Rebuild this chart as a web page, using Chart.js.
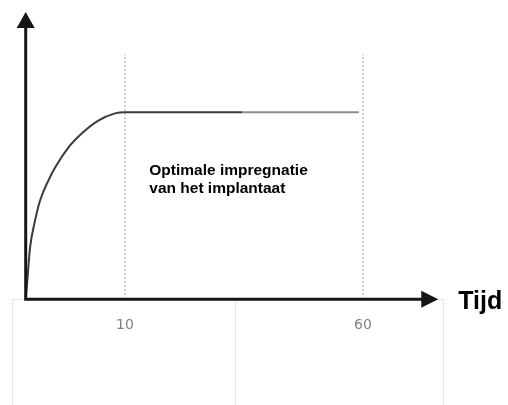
<!DOCTYPE html>
<html>
<head>
<meta charset="utf-8">
<script src="https://cdn.jsdelivr.net/npm/chart.js@4"></script>
<style>
  html, body { margin: 0; padding: 0; background: #fff; }
  #wrap { width: 508px; height: 405px; }
</style>
</head>
<body>
<div id="wrap"><canvas id="impregnationChart"></canvas></div>
<script>
// time axis (plot units) and level values of the impregnation curve
const curveTime = [-10.86, -10.53, -9.96, -8.91, -7.86, -6.11, -4.71, -1.91, 0.9, 4.39, 7.9, 10, 34.6, 59.1];
const curveLevel = [0, 6.3, 17.8, 27.3, 34.3, 41.3, 45.8, 52.8, 57.7, 62.2, 64.7, 65.1, 65.1, 65.1];

// vertical markers at t = 10 and t = 60
const markerTimes = [10, 60];
const markerTop = 85.3;

// bottom axis: cell borders and labelled ticks
const xMin = -13.74;
const xMax = 76.8;
const cellBorders = [xMin, 33.3, xMax];
const tickLabels = ["10", "60"];

const originTime = -10.86;
const axisTipTime = 75.8;

const noteLines = ["Optimale impregnatie", "van het implantaat"];
const notePos = { t: 15.1, level: 43.4 };

const curvePoints = curveTime.map((t, i) => ({ x: t, y: curveLevel[i] }));

const markerSets = markerTimes.map((t) => ({
  data: [{ x: t, y: 0 }, { x: t, y: markerTop }],
  borderColor: "#9a9a9a",
  borderWidth: 1,
  borderDash: [2, 2],
  pointRadius: 0,
}));

// black arrow axes, the "Tijd" label and the note in the plot
const arrowAxes = {
  id: "arrowAxes",
  afterDatasetsDraw(chart) {
    const { ctx, scales } = chart;
    const x0 = scales.x.getPixelForValue(originTime);
    const y0 = scales.y.getPixelForValue(0);
    const xTip = scales.x.getPixelForValue(axisTipTime);
    const yTip = scales.y.getPixelForValue(scales.y.max);

    ctx.save();
    ctx.strokeStyle = "#151515";
    ctx.fillStyle = "#151515";
    ctx.lineWidth = 3;
    ctx.lineCap = "square";

    ctx.beginPath();
    ctx.moveTo(x0, y0);
    ctx.lineTo(x0, yTip + 15);
    ctx.moveTo(x0, y0);
    ctx.lineTo(xTip - 16, y0);
    ctx.stroke();

    ctx.beginPath();
    ctx.moveTo(x0, yTip);
    ctx.lineTo(x0 - 9, yTip + 16);
    ctx.lineTo(x0 + 9, yTip + 16);
    ctx.closePath();
    ctx.fill();

    ctx.beginPath();
    ctx.moveTo(xTip, y0);
    ctx.lineTo(xTip - 17, y0 - 8.5);
    ctx.lineTo(xTip - 17, y0 + 8.5);
    ctx.closePath();
    ctx.fill();

    ctx.font = "bold 25px 'Liberation Sans', Arial, sans-serif";
    ctx.textBaseline = "alphabetic";
    ctx.fillStyle = "#000";
    ctx.fillText("Tijd", xTip + 20, y0 + 10);

    ctx.font = "bold 15.5px 'Liberation Sans', Arial, sans-serif";
    const nx = scales.x.getPixelForValue(notePos.t);
    const ny = scales.y.getPixelForValue(notePos.level);
    noteLines.forEach((line, i) => ctx.fillText(line, nx, ny + i * 18));
    ctx.restore();
  },
};

new Chart(document.getElementById("impregnationChart"), {
  type: "line",
  data: {
    datasets: [
      {
        data: curvePoints,
        borderWidth: 2,
        borderColor: "#3a3a3a",
        cubicInterpolationMode: "monotone",
        pointRadius: 0,
        segment: {
          borderColor: (c) => (c.p0.parsed.x >= 34 ? "#8c8c8c" : "#3a3a3a"),
        },
      },
      ...markerSets,
    ],
  },
  options: {
    responsive: true,
    maintainAspectRatio: false,
    animation: false,
    layout: { padding: { left: 12, right: 65, top: 12, bottom: 61 } },
    plugins: {
      legend: { display: false },
      tooltip: { enabled: false },
    },
    scales: {
      x: {
        type: "linear",
        min: xMin,
        max: xMax,
        afterBuildTicks(scale) {
          scale.ticks = markerTimes.map((v) => ({ value: v }));
        },
        border: { display: false },
        grid: { display: false },
        ticks: {
          autoSkip: false,
          maxRotation: 0,
          padding: 10,
          color: "#808080",
          font: { family: "'DejaVu Sans'", size: 14 },
          callback: (value) => {
            const i = markerTimes.indexOf(value);
            return i >= 0 ? tickLabels[i] : "";
          },
        },
      },
      // light cell lines hanging under the time axis
      cells: {
        type: "linear",
        axis: "x",
        position: { y: 0 },
        min: xMin,
        max: xMax,
        afterBuildTicks(scale) {
          scale.ticks = cellBorders.map((v) => ({ value: v }));
        },
        border: { display: true, color: "#e2e2e2", width: 1 },
        grid: {
          drawOnChartArea: false,
          tickLength: 107,
          tickColor: "#e8e8e8",
        },
        ticks: { display: false },
      },
      y: {
        display: false,
        min: 0,
        max: 100,
      },
    },
  },
  plugins: [arrowAxes],
});
</script>
</body>
</html>
